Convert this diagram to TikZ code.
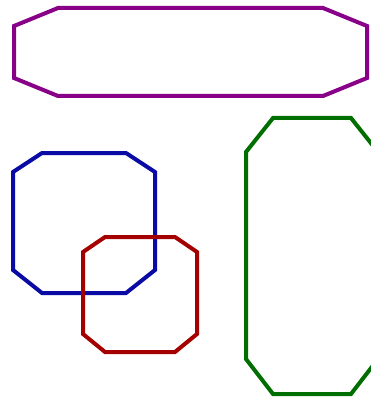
\documentclass[tikz,border=0pt]{standalone}
\usepackage{tikz}

\definecolor{octpurple}{RGB}{136,0,136}
\definecolor{octblue}{RGB}{10,10,165}
\definecolor{octred}{RGB}{165,0,0}
\definecolor{octgreen}{RGB}{0,110,0}

\begin{document}
\begin{tikzpicture}[x=1pt, y=-1pt,
  oct/.style={line width=4pt, line join=miter},
  top/.style={oct, draw=octpurple},
  lft/.style={oct, draw=octblue},
  mid/.style={oct, draw=octred},
  tall/.style={oct, draw=octgreen}]
\useasboundingbox (0,0) rectangle (371,398);
\clip (0,0) rectangle (371,398);
% wide one on top
\draw[top] (58,8) -- (323,8) -- (367,26) -- (367,78) -- (323,96)
  -- (58,96) -- (14,78) -- (14,26) -- cycle;
% blue, left
\draw[lft] (42,153) -- (126,153) -- (155,172) -- (155,270) -- (126,293)
  -- (42,293) -- (13,270) -- (13,172) -- cycle;
% red, over the blue one
\draw[mid] (105,237) -- (175,237) -- (197,252) -- (197,334) -- (175,352)
  -- (105,352) -- (83,334) -- (83,252) -- cycle;
% green, runs off the right edge
\draw[tall] (273,118) -- (351,118) -- (378,152) -- (378,359) -- (351,394)
  -- (273,394) -- (246,359) -- (246,152) -- cycle;
\end{tikzpicture}
\end{document}
